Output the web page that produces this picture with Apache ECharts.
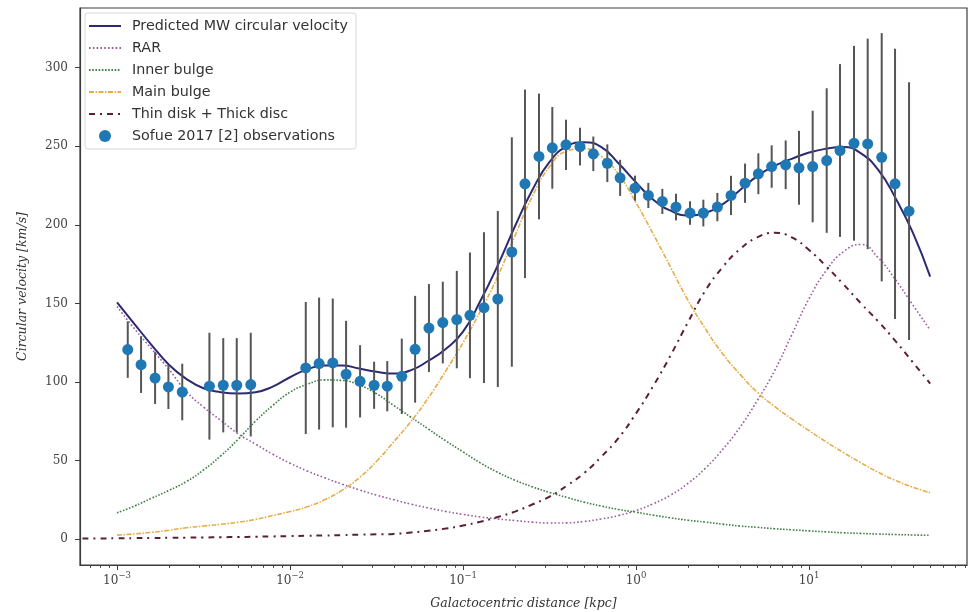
<!DOCTYPE html>
<html><head><meta charset="utf-8">
<script src="https://cdn.jsdelivr.net/npm/echarts@6/dist/echarts.min.js"></script>
<style>html,body{margin:0;padding:0;background:#fff}#c{width:971px;height:612px}</style>
</head><body><div id="c"></div>
<script>
// ---- observations (Sofue 2017) : log10(R/kpc), velocity, error ----
const obsLog10R = [-2.938,-2.861,-2.780,-2.703,-2.623,-2.466,-2.386,-2.308,-2.227,-1.909,-1.832,-1.753,-1.676,-1.595,-1.514,-1.438,-1.354,-1.277,-1.197,-1.117,-1.036,-0.960,-0.879,-0.799,-0.718,-0.642,-0.561,-0.484,-0.405,-0.324,-0.247,-0.166,-0.092,-0.006,0.071,0.152,0.231,0.312,0.389,0.470,0.549,0.630,0.707,0.784,0.865,0.942,1.021,1.102,1.179,1.260,1.339,1.420,1.497,1.578];
const obsVel = [120.6,111,102.5,96.8,93.6,97.3,97.9,97.9,98.3,108.9,111.7,112.1,104.9,100.4,97.9,97.3,103.6,120.8,134.3,137.8,139.7,142.4,147.3,152.8,182.7,226.1,243.5,249,250.9,249.8,245.2,239.2,229.9,223.3,218.7,214.9,211.3,207.5,207.5,211.3,218.7,226.5,232.5,237.1,238.2,236.3,237.1,240.9,247.3,251.9,251.5,243,226.1,208.7];
const obsErr = [18,18,16.5,14,18,34,30,30,33,42,42,41,34,23,15,16,24,34,28,26,31,40,48,56,73,60,40,26,16,12,11,12,11.5,8,8,8,8.5,7.5,8.5,9,12.5,12.5,13,13.5,15.5,23.5,35.5,46,55,62,67,79,86,82];

// ---- model curves : log10(R/kpc) grid and velocities ----
const curveLog10R = [-3.0,-2.9,-2.8,-2.7,-2.6,-2.5,-2.4,-2.3,-2.2,-2.1,-2.0,-1.9,-1.8,-1.7,-1.6,-1.5,-1.4,-1.3,-1.2,-1.1,-1.0,-0.9,-0.8,-0.7,-0.6,-0.5,-0.4,-0.3,-0.2,-0.1,0.0,0.1,0.2,0.3,0.4,0.5,0.6,0.7,0.8,0.9,1.0,1.1,1.2,1.3,1.4,1.5,1.6,1.7];
const modelVel = [150.7,137,123.5,111,102,96,93.5,92.7,93.5,97,103,108,110.5,110.5,108.5,106.5,105.3,107.5,113.5,121,132,151.5,174,199,222,240,250,252.5,249.4,239,227,216,209,206,207.5,213,222,231,237.5,242,246,248.5,249.5,245.5,235,217,195,167];
const rarVel = [148,134,121,108,94,84,75.5,67,60.5,54,48.3,43.3,39,35,31.3,28,25,22.2,19.8,17.6,15.7,14.1,12.8,11.8,10.8,10.2,10.3,11.2,12.8,15,18.2,22.5,28,35.5,45,57,71,88,107,130,153,171,183,187.5,179,165,149,133];
const innerBulgeVel = [16.7,21,26,31,36.5,44,53,63.5,75,85,93.5,98.5,101.3,101,98,92.5,85,77.5,70,62.5,55.5,48.5,42.5,37.5,33.3,29.7,26.5,23.5,21,18.8,17.1,15.2,13.5,12,10.8,9.5,8.3,7.5,6.6,5.9,5.2,4.6,4.0,3.6,3.2,2.9,2.6,2.4];
const mainBulgeVel = [2.5,3.3,4.3,5.6,7.2,8.3,9.4,10.7,12.5,15,17.5,20.5,25,31,39,49.5,62,75,90,107,125,145,167,193,218,237,247,248.5,243.5,232,214,194,173,152,134,118,105,93.5,84.5,76.5,69,61.8,55,48.5,42.5,37.3,33,29.5];
const diskLog10R = [-3.2,-3.1].concat(curveLog10R);
const diskVel = [0.3,0.4,0.5,0.6,0.7,0.8,0.9,1.0,1.2,1.3,1.5,1.7,1.9,2.1,2.3,2.5,2.8,3.0,3.3,4.2,5.3,6.7,8.6,11,14,17.5,22,27,34,42,52.5,64.5,80,97.5,117,138,158,173,184.5,192,195,192,184,173.5,162,150,138.5,126,112.5,99];

// ---- axes ----
const xMajorExp = [-3,-2,-1,0,1];
const yTicks = [0,50,100,150,200,250,300];
const xMin = -3.214, xMax = 1.913, yMin = -16.5, yMax = 338;

const xMinor = [];
for (let e = -4; e <= 1; e++) for (let k = 2; k <= 9; k++) {
  const v = Math.log10(k * Math.pow(10, e));
  if (v > xMin && v < xMax) xMinor.push(v);
}
const pairs = (xs, ys) => xs.map((x, i) => [x, ys[i]]);

const names = ['Predicted MW circular velocity','RAR','Inner bulge','Main bulge','Thin disk + Thick disc','Sofue 2017 [2] observations'];
const legendData = names.map((n, i) => i < 5 ? {name: n, itemStyle: {opacity: 0}} : {name: n, icon: 'circle', itemStyle: {opacity: 1}});
const SM = 0.5;

const chart = echarts.init(document.getElementById('c'));
chart.setOption({
  animation: false,
  backgroundColor: '#fff',
  grid: {left: 80, right: 4, top: 8, bottom: 47, show: true, borderColor: '#3c3c3c', borderWidth: 1.2, backgroundColor: 'transparent', outerBoundsMode: 'none', containLabel: false},
  legend: {
    orient: 'vertical', left: 85, top: 13, itemWidth: 32, itemHeight: 12, itemGap: 8,
    padding: [6, 8, 6, 3], backgroundColor: 'rgba(255,255,255,0.9)', borderColor: '#d8d8d8', borderWidth: 1, borderRadius: 3,
    textStyle: {fontFamily: 'DejaVu Sans', fontSize: 14.3, color: '#333', padding: [0, 0, 0, 6]},
    data: legendData
  },
  xAxis: [{
    type: 'value', min: xMin, max: xMax, position: 'bottom',
    name: 'Galactocentric distance [kpc]', nameLocation: 'middle', nameGap: 32,
    nameTextStyle: {fontFamily: 'DejaVu Serif', fontStyle: 'italic', fontSize: 12.5, color: '#333'},
    axisLine: {show: true, onZero: false, lineStyle: {color: '#3c3c3c', width: 1.2}},
    axisTick: {show: true, length: 5, lineStyle: {color: '#3c3c3c'}, customValues: xMajorExp},
    axisLabel: {
      customValues: xMajorExp, margin: 6, color: '#444',
      formatter: v => '{b|10}{s|' + (v < 0 ? '\u2212' + Math.abs(v) : v) + '}',
      rich: {
        b: {fontFamily: 'DejaVu Serif', fontSize: 12, color: '#444', lineHeight: 16, verticalAlign: 'bottom'},
        s: {fontFamily: 'DejaVu Serif', fontSize: 8.5, color: '#444', lineHeight: 16, verticalAlign: 'top', padding: [0, 0, 6, 0]}
      }
    },
    splitLine: {show: false}
  }, {
    type: 'value', min: xMin, max: xMax, position: 'bottom',
    axisLine: {show: false, onZero: false},
    axisTick: {show: true, length: 2.8, lineStyle: {color: '#3c3c3c'}, customValues: xMinor},
    axisLabel: {show: false}, splitLine: {show: false}
  }],
  yAxis: {
    type: 'value', min: yMin, max: yMax,
    name: 'Circular velocity [km/s]', nameLocation: 'middle', nameGap: 51,
    nameTextStyle: {fontFamily: 'DejaVu Serif', fontStyle: 'italic', fontSize: 12.5, color: '#333'},
    axisLine: {show: true, onZero: false, lineStyle: {color: '#3c3c3c', width: 1.2}},
    axisTick: {show: true, length: 5, lineStyle: {color: '#3c3c3c'}, customValues: yTicks},
    axisLabel: {customValues: yTicks, fontFamily: 'DejaVu Serif', fontSize: 12, color: '#444', margin: 12},
    splitLine: {show: false}
  },
  series: [
    {type: 'line', name: names[0], data: pairs(curveLog10R, modelVel), smooth: SM, symbol: 'none',
     lineStyle: {color: '#2c2a70', width: 2}, itemStyle: {color: '#2c2a70'}, z: 6},
    {type: 'line', name: names[1], data: pairs(curveLog10R, rarVel), smooth: SM, symbol: 'none',
     lineStyle: {color: '#9a5a9e', width: 1.6, type: [1.6, 2.2]}, itemStyle: {color: '#9a5a9e'}, z: 3},
    {type: 'line', name: names[2], data: pairs(curveLog10R, innerBulgeVel), smooth: SM, symbol: 'none',
     lineStyle: {color: '#3f7f45', width: 1.6, type: [1.6, 1.6]}, itemStyle: {color: '#3f7f45'}, z: 3},
    {type: 'line', name: names[3], data: pairs(curveLog10R, mainBulgeVel), smooth: SM, symbol: 'none',
     lineStyle: {color: '#e6ad48', width: 1.6, type: [5, 1.5, 1.5, 1.5]}, itemStyle: {color: '#e6ad48'}, z: 3},
    {type: 'line', name: names[4], data: pairs(diskLog10R, diskVel), smooth: SM, symbol: 'none',
     lineStyle: {color: '#5c2036', width: 2, type: [6, 5, 2, 5]}, itemStyle: {color: '#5c2036'}, z: 3},
    {type: 'custom', name: 'errorbars', silent: true, z: 10,
     data: obsLog10R.map((x, i) => [x, obsVel[i] - obsErr[i], obsVel[i] + obsErr[i]]),
     encode: {x: 0, y: [1, 2]},
     renderItem: (params, api) => {
       const p1 = api.coord([api.value(0), api.value(1)]);
       const p2 = api.coord([api.value(0), api.value(2)]);
       return {type: 'line', shape: {x1: p1[0], y1: p1[1], x2: p2[0], y2: p2[1]}, style: {stroke: '#555', lineWidth: 2}};
     }},
    {type: 'scatter', name: names[5], data: pairs(obsLog10R, obsVel), symbolSize: 11,
     itemStyle: {color: '#1f77b4', opacity: 1}, z: 11}
  ]
});
</script></body></html>
